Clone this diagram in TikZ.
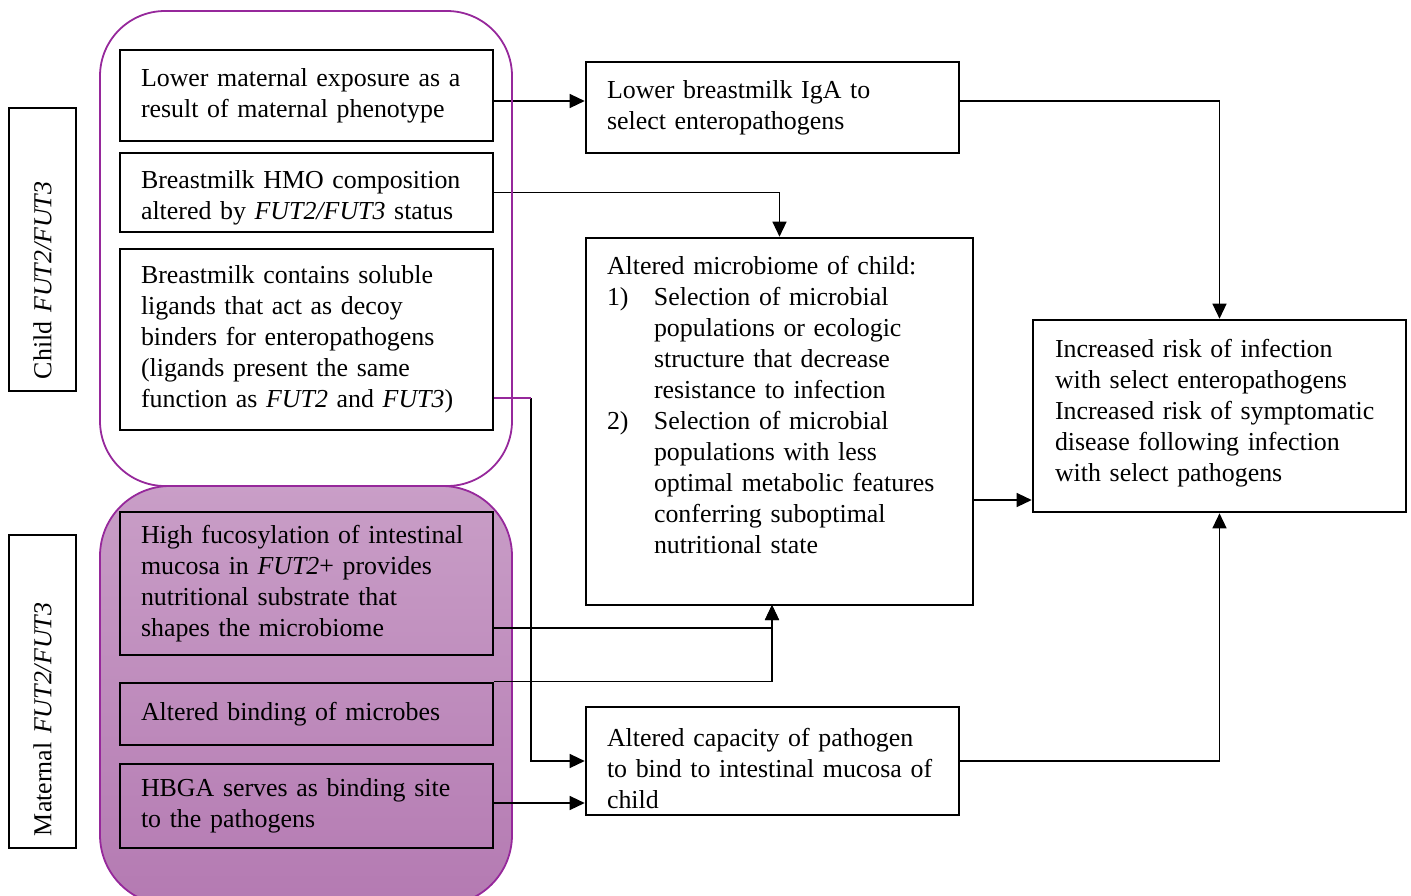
\documentclass[tikz,border=0pt]{standalone}
\usepackage{fontspec}
\setmainfont{Liberation Serif}
\usetikzlibrary{arrows.meta,calc}
\definecolor{grpline}{RGB}{150,40,155}
\definecolor{grptop}{RGB}{201,158,199}
\definecolor{grpbot}{RGB}{180,122,178}
\newcommand\boxfont{\fontsize{25.9pt}{31pt}\selectfont}
\begin{document}
\begin{tikzpicture}[x=1pt,y=-1pt,
  box/.style={draw, line width=2.6pt, rectangle, inner xsep=21pt, inner ysep=0pt,
    align=left, font=\boxfont},
  lbl/.style={draw, line width=2.6pt, rectangle, inner xsep=12pt, inner ysep=0pt,
    align=left, font=\boxfont, rotate=90},
  conn/.style={line width=1.3pt, -{Triangle[length=15pt,width=14pt]}},
  stub/.style={line width=1.3pt}]
\useasboundingbox (0,0) rectangle (1411,895);

% maternal group (shaded)
\path[draw=grpline, line width=1.8pt, top color=grptop, bottom color=grpbot,
  rounded corners=70pt] (100,486) rectangle (512,905);

% left labels
\node[lbl, minimum width=283pt, minimum height=67pt, text width=259pt] (L1) at (42.5,249.5)
  {Child \textit{FUT2/FUT3}};
\node[lbl, minimum width=313pt, minimum height=67pt, text width=289pt] (L2) at (42.5,691.5)
  {Maternal \textit{FUT2/FUT3}};

% child-side boxes
\node[box, minimum width=373pt, minimum height=91pt, text width=331pt] (A) at (306.5,95.5)
  {Lower maternal exposure as a\\result of maternal phenotype};
\node[box, minimum width=373pt, minimum height=79pt, text width=331pt] (B) at (306.5,192.5)
  {\rule{0pt}{28pt}Breastmilk HMO composition\\altered by \textit{FUT2/FUT3} status};
\node[box, minimum width=373pt, minimum height=181pt, text width=331pt] (C) at (306.5,339.5)
  {Breastmilk contains soluble\\ligands that act as decoy\\binders for enteropathogens\\(ligands present the same\\function as \textit{FUT2} and \textit{FUT3})};

% maternal-side boxes
\node[box, minimum width=373pt, minimum height=143pt, text width=331pt] (D) at (306.5,583.5)
  {High fucosylation of intestinal\\mucosa in \textit{FUT2}+ provides\\nutritional substrate that\\shapes the microbiome};
\node[box, minimum width=373pt, minimum height=62pt, text width=331pt] (E) at (306.5,714)
  {Altered binding of microbes};
\node[box, minimum width=373pt, minimum height=84pt, text width=331pt] (F) at (306.5,806)
  {HBGA serves as binding site\\to the pathogens};

% effect boxes
\node[box, minimum width=373pt, minimum height=91pt, text width=331pt] (G) at (772.5,107.5)
  {Lower breastmilk IgA to\\select enteropathogens};
\node[box, minimum width=387pt, minimum height=367pt] (H) at (779.5,421.5) {};
\node[font=\boxfont, align=left, text width=345pt, inner sep=0pt, yshift=16.5pt] (Ht) at (H.center)
  {Altered microbiome of child:\\
   \makebox[47pt][l]{1)}Selection of microbial\\
   \hspace*{47pt}populations or ecologic\\
   \hspace*{47pt}structure that decrease\\
   \hspace*{47pt}resistance to infection\\
   \makebox[47pt][l]{2)}Selection of microbial\\
   \hspace*{47pt}populations with less\\
   \hspace*{47pt}optimal metabolic features\\
   \hspace*{47pt}conferring suboptimal\\
   \hspace*{47pt}nutritional state};
\node[box, minimum width=373pt, minimum height=108pt, text width=331pt] (I) at (772.5,761)
  {\rule{0pt}{33pt}\mbox{Altered capacity of pathogen}\\\mbox{to bind to intestinal mucosa of}\\child};
\node[box, minimum width=373pt, minimum height=192pt, text width=329pt] (J) at (1219.5,416)
  {Increased risk of infection\\with select enteropathogens\\Increased risk of symptomatic\\disease following infection\\with select pathogens\rule[-12pt]{0pt}{0pt}};

% connectors
\coordinate (cbend) at (531,398);
\coordinate (hin) at (772,605);
\draw[conn] (A.east |- 0,101) -- (G.west |- 0,101);
\draw[conn] (B.east) -| (H.north);
\draw[conn] (G.east |- 0,101) -| (J.north);
\draw[conn] (H.east |- 0,500) -- (J.west |- 0,500);
\draw[conn] (I.east) -| (J.south);
\draw[conn] (cbend) |- (I.west);
\draw[stub, grpline] (C.east |- cbend) -- (cbend);
\draw[conn] (D.east |- 0,628) -| (hin);
\draw[conn] (E.north east) -| (hin);
\draw[conn] (F.east |- 0,803) -- (I.west |- 0,803);

% child group outline
\draw[grpline, line width=1.8pt, rounded corners=65pt] (100,11) rectangle (512,486);
\end{tikzpicture}
\end{document}
